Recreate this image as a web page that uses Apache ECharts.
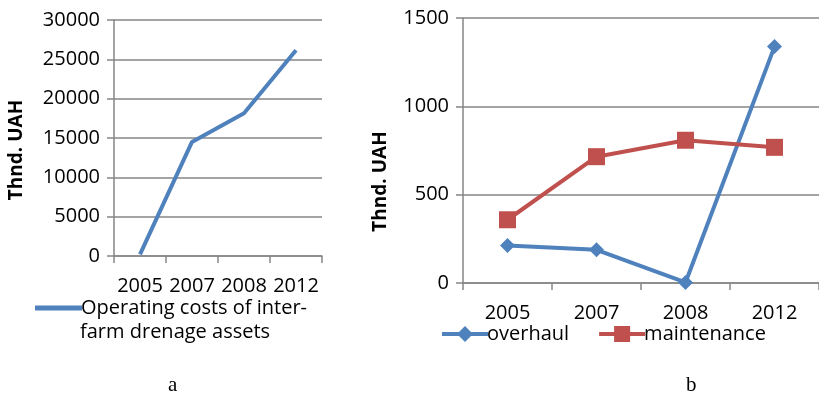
<!DOCTYPE html>
<html><head><meta charset="utf-8">
<script src="https://cdn.jsdelivr.net/npm/echarts@6/dist/echarts.min.js"></script>
<style>html,body{margin:0;padding:0;background:#fff}#c{width:819px;height:397px}</style>
</head><body><div id="c"></div>
<script>
const years = ['2005','2007','2008','2012'];
const operatingCosts = [200, 14500, 18150, 26150];
const overhaul = [212, 188, 3, 1338];
const maintenance = [358, 715, 808, 768];
const leftTicks = [0, 5000, 30000];
const rightTicks = [0, 500, 1500];
const yName = 'Thnd. UAH';

const FONT = 'Open Sans';
const grey = '#868686';
const blue = '#4F81BD', red = '#C0504D';
const txt = '#000';

const chart = echarts.init(document.getElementById('c'));
const xAxisBase = {
  type: 'category', boundaryGap: true,
  axisLine: {lineStyle: {color: grey, width: 1.5}},
  axisTick: {show: true, length: 7, lineStyle: {color: grey, width: 1.5}},
  axisLabel: {color: txt, fontFamily: FONT, fontSize: 20, margin: 20, interval: 0},
  splitLine: {show: false}
};
const yAxisBase = {
  type: 'value',
  axisLine: {show: true, lineStyle: {color: grey, width: 1.5}},
  axisTick: {show: true, length: 7, lineStyle: {color: grey, width: 1.5}},
  axisLabel: {color: txt, fontFamily: FONT, fontSize: 20, margin: 14, formatter: v => String(v)},
  splitLine: {show: true, lineStyle: {color: grey, width: 1.5}},
  name: yName, nameLocation: 'middle',
  nameTextStyle: {fontFamily: FONT, fontWeight: 'bold', fontSize: 19, color: txt}
};
const diamondIcon = 'path://M0,6L46,6L46,10L0,10Z M23,0L31,8L23,16L15,8Z';
const squareIcon = 'path://M0,6L46,6L46,10L0,10Z M15,0L31,0L31,16L15,16Z';
chart.setOption({
  animation: false,
  grid: [
    {left: 114, top: 20, width: 208, height: 236},
    {left: 463, top: 18, width: 364, height: 265}
  ],
  xAxis: [
    Object.assign({}, xAxisBase, {gridIndex: 0, data: years}),
    Object.assign({}, xAxisBase, {gridIndex: 1, data: years})
  ],
  yAxis: [
    Object.assign({}, yAxisBase, {gridIndex: 0, min: leftTicks[0], max: leftTicks[2], interval: leftTicks[1], nameGap: 88,
      nameTextStyle: Object.assign({}, yAxisBase.nameTextStyle, {padding: [0, 24, 0, 0]})}),
    Object.assign({}, yAxisBase, {gridIndex: 1, min: rightTicks[0], max: rightTicks[2], interval: rightTicks[1], nameGap: 73,
      nameTextStyle: Object.assign({}, yAxisBase.nameTextStyle, {padding: [0, 62, 0, 0]})})
  ],
  legend: [
    {left: 30, top: 293, itemWidth: 47, itemHeight: 5, icon: 'rect',
     data: ['Operating costs of inter-'],
     itemStyle: {color: blue},
     textStyle: {fontFamily: FONT, fontSize: 20, color: txt, padding: [0,0,0,-6]}},
    {left: 437, top: 319, itemWidth: 46, itemHeight: 16, itemGap: 30,
     data: [{name: 'overhaul', icon: diamondIcon}, {name: 'maintenance', icon: squareIcon}],
     textStyle: {fontFamily: FONT, fontSize: 20, color: txt, padding: [0,0,0,-6]}}
  ],
  graphic: [
    {type: 'text', left: 80, top: 322, style: {text: 'farm drenage assets', font: '20px "Open Sans"', fill: txt}},
    {type: 'text', left: 168, top: 375, style: {text: 'a', font: '21px "Liberation Serif"', fill: txt}},
    {type: 'text', left: 686, top: 375, style: {text: 'b', font: '21px "Liberation Serif"', fill: txt}}
  ],
  series: [
    {name: 'Operating costs of inter-', type: 'line', xAxisIndex: 0, yAxisIndex: 0, data: operatingCosts,
     symbol: 'none', lineStyle: {color: blue, width: 4}, itemStyle: {color: blue}},
    {name: 'overhaul', type: 'line', xAxisIndex: 1, yAxisIndex: 1, data: overhaul,
     symbol: 'diamond', symbolSize: 15, lineStyle: {color: blue, width: 4}, itemStyle: {color: blue}},
    {name: 'maintenance', type: 'line', xAxisIndex: 1, yAxisIndex: 1, data: maintenance,
     symbol: 'rect', symbolSize: 17, lineStyle: {color: red, width: 4}, itemStyle: {color: red}}
  ]
});
</script></body></html>
